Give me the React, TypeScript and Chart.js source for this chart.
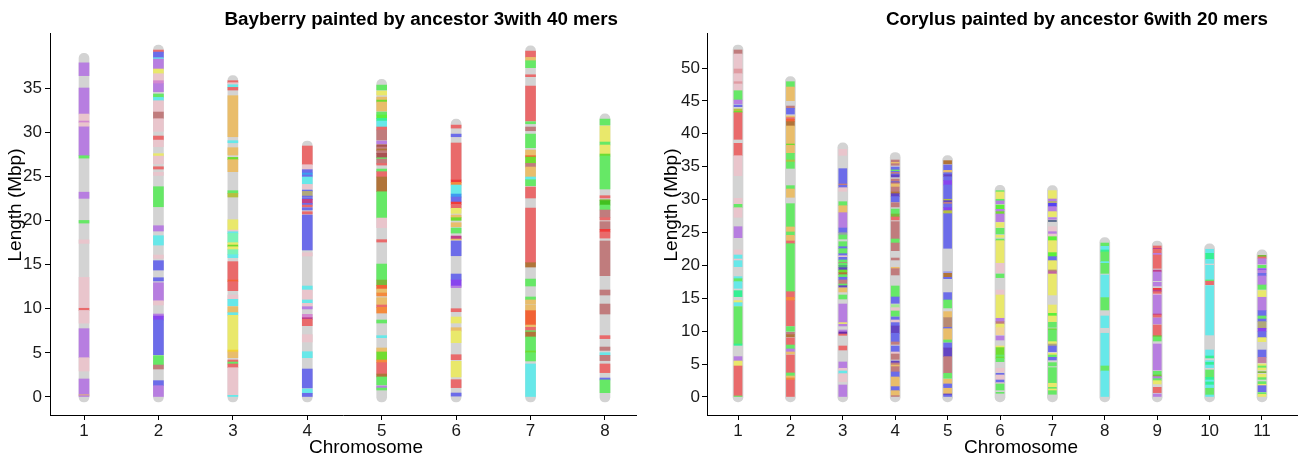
import { useEffect, useRef } from "react";
import { Chart, registerables } from "chart.js";
Chart.register(...registerables);

type Seg = [number, number, string];

// ancestral-source colour codes
const PALETTE: Record<string, string> = {
  P: "#b77ee0", K: "#e9c5cc", G: "#66e866", C: "#67e8e9", B: "#6c6ce9", R: "#e96a6b",
  O: "#e9bd6b", Y: "#e9e86b", M: "#c07c7d", N: "#b07439", L: "#70dc30", V: "#8844ee",
  I: "#6344c2", S: "#34f094", A: "#7af2b8", D: "#f48a3c", E: "#f26234", Q: "#b5c040",
  T: "#b0a87a", H: "#c0408a", W: "#3d9cf0", F: "#f2d398", X: "#e09ca2", Z: "#d488d0",
  J: "#f2d033", U: "#5cf03a", RB: "#f03a3a", MD: "#a85252", OG: "#7ab83a", DG: "#42c020",
  SL: "#94a4a4", SG: "#52b474", DP: "#6a2aaa", LG: "#a4e894", LB: "#9c9ce8", TN: "#b88a72",
  VB: "#5442f0", ST: "#607090", OR: "#c262a2", MV: "#c282a2",
};

// ---------------- Bayberry (ancestor 3, 40 mers) ----------------
const bayberryTitle = "Bayberry painted by ancestor 3with 40 mers";
const bayberryChromosomes = ["1", "2", "3", "4", "5", "6", "7", "8"];
const bayberryLengths = [38.35, 39.3, 35.83, 28.43, 35.4, 30.9, 39.2, 31.5];
const bayberryYTicks = [0, 5, 10, 15, 20, 25, 30, 35];

const bayberryChr1: Seg[] = [
  [36.4, 37.85, "P"], [32.05, 35.0, "P"], [31.26, 32.05, "K"], [31.07, 31.26, "Z"], [30.6, 31.07, "K"],
  [27.33, 30.6, "P"], [27.06, 27.33, "G"], [22.5, 23.2, "P"], [19.7, 20.0, "G"], [17.4, 17.8, "K"],
  [10.05, 13.55, "K"], [9.8, 10.05, "R"], [8.37, 9.8, "K"], [4.45, 7.74, "P"], [2.94, 4.45, "K"],
  [0.25, 2.04, "P"], [0.15, 0.25, "O"], [0, 0.15, "P"],
];
const bayberryChr2: Seg[] = [
  [39.07, 39.3, "R"], [38.43, 39.07, "B"], [38.28, 38.43, "C"], [37.15, 38.28, "P"], [36.62, 37.15, "Y"],
  [35.83, 36.62, "K"], [35.49, 35.83, "Z"], [34.58, 35.49, "P"], [33.94, 34.32, "G"], [33.56, 33.94, "C"],
  [32.28, 33.56, "K"], [31.52, 32.28, "M"], [30.09, 31.52, "K"], [29.1, 29.56, "R"], [28.35, 29.1, "K"],
  [27.29, 27.56, "Y"], [26.42, 27.29, "K"], [25.82, 26.08, "R"], [25.1, 25.45, "K"], [21.55, 23.82, "G"],
  [18.8, 19.4, "P"], [17.21, 18.27, "C"], [15.7, 16.08, "K"], [14.38, 15.44, "B"], [13.14, 13.51, "B"],
  [10.9, 12.94, "P"], [10.42, 10.9, "K"], [9.17, 9.4, "P"], [8.72, 9.17, "V"], [4.79, 8.72, "B"],
  [3.62, 4.68, "G"], [3.17, 3.62, "M"], [1.28, 1.85, "B"], [0, 1.28, "P"],
];
const bayberryChr3: Seg[] = [
  [35.6, 35.83, "R"], [35.37, 35.6, "K"], [35.07, 35.37, "C"], [34.77, 35.07, "R"], [29.48, 34.13, "O"],
  [28.8, 29.03, "C"], [27.41, 28.24, "O"], [26.88, 27.14, "L"], [25.52, 26.88, "O"], [23.06, 23.37, "G"],
  [22.65, 23.06, "Q"], [18.91, 20.08, "Y"], [18.72, 18.91, "K"], [18.53, 18.72, "C"], [17.48, 18.53, "A"],
  [17.21, 17.48, "Y"], [17.02, 17.21, "L"], [16.69, 17.02, "Y"], [16.12, 16.69, "A"], [15.78, 16.12, "C"],
  [13.25, 15.33, "R"], [13.06, 13.25, "E"], [12.04, 13.06, "R"], [11.06, 11.55, "K"], [10.34, 11.06, "C"],
  [9.55, 10.23, "O"], [9.25, 9.55, "C"], [5.32, 9.25, "Y"], [5.1, 5.32, "J"], [4.45, 5.1, "O"],
  [3.96, 4.19, "R"], [3.74, 3.96, "G"], [3.32, 3.74, "R"], [0.19, 3.32, "K"], [0, 0.19, "C"],
];
const bayberryChr4: Seg[] = [
  [26.31, 28.43, "R"], [25.75, 26.31, "K"], [25.37, 25.75, "B"], [25.14, 25.37, "W"], [24.92, 25.14, "B"],
  [24.12, 24.92, "C"], [23.56, 24.08, "K"], [23.29, 23.44, "B"], [22.76, 23.29, "T"], [22.61, 22.76, "B"],
  [22.39, 22.54, "B"], [21.93, 22.39, "H"], [21.74, 21.93, "B"], [21.52, 21.74, "R"], [21.18, 21.44, "B"],
  [20.72, 20.99, "R"], [16.65, 20.61, "B"], [15.97, 16.34, "K"], [12.12, 12.57, "C"], [10.99, 12.12, "K"],
  [10.61, 10.99, "C"], [10.23, 10.61, "K"], [9.97, 10.23, "P"], [8.98, 9.36, "Z"], [8.8, 8.98, "H"],
  [8.08, 8.8, "R"], [6.23, 7.06, "K"], [4.45, 5.13, "C"], [1.02, 3.17, "B"], [0.42, 0.91, "C"], [0, 0.42, "B"],
];
const bayberryChr5: Seg[] = [
  [34.77, 35.33, "G"], [34.2, 34.65, "Y"], [33.63, 33.97, "O"], [33.41, 33.63, "L"], [32.39, 33.41, "O"],
  [31.94, 32.28, "G"], [31.56, 31.94, "U"], [31.26, 31.56, "S"], [30.58, 31.26, "C"], [30.24, 30.58, "R"],
  [29.1, 30.24, "M"], [28.69, 28.99, "P"], [28.31, 28.58, "MD"], [28.09, 28.31, "M"], [27.9, 28.09, "N"],
  [27.6, 27.9, "M"], [27.1, 27.6, "MD"], [26.95, 27.1, "G"], [26.46, 26.95, "M"], [26.27, 26.46, "R"],
  [25.52, 25.82, "G"], [24.92, 25.52, "R"], [23.25, 24.92, "N"], [20.27, 23.25, "G"], [19.18, 20.27, "K"],
  [17.55, 17.82, "R"], [13.25, 15.06, "G"], [12.65, 13.25, "OG"], [12.23, 12.65, "E"], [11.78, 12.23, "O"],
  [11.44, 11.78, "D"], [10.42, 11.25, "O"], [10.16, 10.42, "R"], [9.51, 10.16, "D"], [8.38, 8.72, "G"],
  [6.72, 6.95, "C"], [5.1, 5.55, "O"], [4.19, 5.1, "L"], [3.89, 4.19, "D"], [2.6, 3.89, "R"],
  [2.27, 2.6, "N"], [1.36, 2.27, "G"], [1.02, 1.25, "P"], [0.79, 1.02, "G"],
];
const bayberryChr6: Seg[] = [
  [30.46, 30.8, "R"], [29.48, 29.78, "B"], [24.58, 28.77, "R"], [24.31, 24.58, "RB"], [24.01, 24.31, "D"],
  [22.99, 24.01, "C"], [22.65, 22.99, "W"], [22.08, 22.65, "B"], [21.82, 22.08, "RB"], [21.37, 21.82, "R"],
  [20.8, 21.37, "Y"], [20.31, 20.61, "O"], [20.01, 20.31, "L"], [19.29, 19.74, "O"], [18.57, 19.14, "G"],
  [17.89, 18.23, "H"], [17.78, 17.89, "O"], [16.0, 17.67, "B"], [13.25, 13.93, "B"], [12.57, 13.25, "V"],
  [12.38, 12.57, "P"], [9.66, 10.0, "R"], [8.38, 9.06, "Y"], [7.47, 7.85, "O"], [6.15, 7.47, "Y"],
  [4.23, 4.79, "R"], [2.27, 4.04, "Y"], [1.06, 1.96, "R"], [0.1, 0.45, "B"],
];
const bayberryChr7: Seg[] = [
  [38.47, 39.18, "R"], [38.09, 38.47, "O"], [37.3, 38.09, "G"], [36.28, 36.5, "R"], [31.26, 35.22, "R"],
  [30.95, 31.18, "G"], [30.16, 30.58, "M"], [28.24, 29.78, "G"], [27.33, 27.97, "O"], [27.18, 27.33, "E"],
  [26.46, 27.18, "L"], [26.05, 26.46, "M"], [24.92, 26.05, "O"], [24.61, 24.92, "C"], [23.93, 24.61, "G"],
  [22.54, 23.78, "R"], [15.21, 21.4, "R"], [14.72, 15.21, "N"], [12.57, 13.36, "G"], [11.02, 11.33, "G"],
  [10.5, 10.99, "O"], [9.78, 10.38, "O"], [8.15, 9.78, "E"], [7.89, 8.15, "O"], [7.51, 7.89, "R"],
  [7.36, 7.51, "G"], [6.8, 7.36, "N"], [5.21, 6.8, "G"], [5.02, 5.21, "L"], [4.08, 5.02, "G"], [0, 3.74, "C"],
];
const bayberryChr8: Seg[] = [
  [30.8, 31.48, "G"], [28.88, 30.69, "Y"], [28.54, 28.88, "G"], [27.52, 28.54, "Y"], [27.29, 27.52, "L"],
  [23.56, 27.29, "G"], [22.54, 22.8, "R"], [22.23, 22.35, "OG"], [21.74, 22.23, "DG"], [21.18, 21.74, "G"],
  [20.31, 21.18, "M"], [20.05, 20.31, "R"], [18.99, 19.86, "M"], [18.69, 18.99, "RB"], [18.0, 18.69, "R"],
  [13.74, 17.67, "M"], [11.55, 12.12, "M"], [9.4, 10.53, "M"], [6.61, 6.95, "R"], [5.28, 5.66, "M"],
  [4.72, 5.02, "C"], [4.12, 4.72, "M"], [2.76, 3.74, "R"], [1.93, 2.15, "B"], [0.49, 1.93, "G"],
];

// ---------------- Corylus (ancestor 6, 20 mers) ----------------
const corylusTitle = "Corylus painted by ancestor 6with 20 mers";
const corylusChromosomes = ["1", "2", "3", "4", "5", "6", "7", "8", "9", "10", "11"];
const corylusLengths = [52.74, 47.92, 37.85, 36.4, 35.92, 31.4, 31.36, 23.45, 22.95, 22.5, 21.6];
const corylusYTicks = [0, 5, 10, 15, 20, 25, 30, 35, 40, 45, 50];

const corylusChr1: Seg[] = [
  [52.13, 52.74, "M"], [49.85, 52.13, "K"], [49.14, 49.85, "X"], [47.92, 49.14, "K"], [47.57, 47.92, "X"],
  [46.55, 47.57, "K"], [45.14, 46.55, "G"], [44.58, 45.14, "P"], [44.12, 44.38, "B"], [43.42, 43.77, "Q"],
  [43.21, 43.42, "L"], [39.16, 43.21, "R"], [36.67, 38.55, "R"], [33.64, 36.67, "K"], [29.28, 30.19, "K"],
  [28.77, 29.28, "G"], [27.31, 28.77, "K"], [24.21, 25.88, "P"], [21.58, 22.34, "K"], [20.97, 21.58, "C"],
  [20.72, 20.97, "K"], [19.81, 20.72, "C"], [17.98, 18.29, "C"], [17.53, 17.98, "G"], [16.52, 17.53, "C"],
  [15.25, 16.16, "S"], [14.34, 14.64, "Y"], [13.83, 14.34, "C"], [8.05, 13.73, "G"], [7.85, 8.05, "S"],
  [5.47, 6.13, "P"], [4.71, 5.47, "Y"], [0.15, 4.71, "R"], [0, 0.15, "G"],
];
const corylusChr2: Seg[] = [
  [47.11, 47.92, "G"], [45.04, 47.11, "O"], [43.87, 44.22, "M"], [43.0, 43.87, "B"], [42.45, 42.7, "O"],
  [42.2, 42.45, "R"], [41.84, 42.2, "E"], [41.19, 41.84, "N"], [38.45, 41.19, "O"], [38.25, 38.45, "L"],
  [37.03, 38.25, "O"], [36.02, 37.03, "G"], [35.71, 36.02, "Q"], [34.75, 35.71, "G"], [31.61, 32.12, "G"],
  [30.35, 31.61, "O"], [25.84, 29.38, "G"], [25.08, 25.84, "O"], [24.57, 25.08, "G"], [23.71, 24.57, "O"],
  [23.3, 23.71, "R"], [16.0, 23.3, "G"], [15.15, 16.0, "R"], [14.64, 15.15, "D"], [10.79, 14.64, "R"],
  [9.98, 10.69, "G"], [9.47, 9.83, "M"], [9.12, 9.47, "N"], [7.9, 8.97, "R"], [7.3, 7.9, "G"],
  [6.84, 7.3, "P"], [6.53, 6.84, "O"], [3.65, 6.38, "R"], [3.19, 3.65, "G"], [2.89, 3.19, "O"],
  [2.58, 2.89, "D"], [0, 2.58, "R"],
];
const corylusChr3: Seg[] = [
  [36.73, 37.64, "K"], [32.37, 34.7, "B"], [32.17, 32.37, "M"], [31.81, 32.17, "B"], [31.26, 31.81, "K"],
  [29.07, 29.68, "G"], [28.01, 29.07, "O"], [25.68, 28.01, "P"], [24.97, 25.68, "B"], [24.62, 24.97, "SL"],
  [24.01, 24.62, "G"], [22.84, 23.6, "G"], [22.54, 22.84, "B"], [21.78, 22.54, "G"], [21.47, 21.78, "B"],
  [21.23, 21.47, "K"], [20.82, 21.23, "B"], [20.42, 20.82, "G"], [20.31, 20.42, "M"], [20.01, 20.31, "G"],
  [19.65, 20.01, "SG"], [19.3, 19.65, "I"], [18.9, 19.3, "L"], [18.59, 18.9, "N"], [18.19, 18.59, "G"],
  [17.78, 18.19, "B"], [17.17, 17.78, "M"], [16.92, 17.17, "G"], [16.67, 16.92, "I"], [15.96, 16.57, "O"],
  [14.89, 15.5, "G"], [11.3, 14.13, "P"], [11.15, 11.3, "Y"], [10.79, 11.05, "P"], [9.88, 10.18, "P"],
  [9.57, 9.88, "DP"], [9.37, 9.57, "R"], [7.14, 7.75, "R"], [4.36, 5.32, "P"], [3.95, 4.36, "K"],
  [3.55, 3.95, "C"], [2.33, 3.55, "K"], [0, 1.82, "P"],
];
const corylusChr4: Seg[] = [
  [35.66, 36.02, "M"], [35.46, 35.66, "O"], [35.21, 35.46, "M"], [34.5, 34.95, "B"], [34.3, 34.5, "G"],
  [34.14, 34.3, "B"], [33.89, 34.14, "M"], [33.74, 33.89, "B"], [33.43, 33.74, "I"], [32.83, 33.13, "M"],
  [32.57, 32.73, "I"], [32.37, 32.57, "M"], [31.91, 32.37, "O"], [31.16, 31.91, "M"], [30.9, 31.16, "N"],
  [30.45, 30.9, "I"], [29.64, 30.45, "B"], [28.88, 29.53, "M"], [27.81, 28.57, "G"], [27.36, 27.81, "OG"],
  [26.9, 27.36, "R"], [24.01, 26.65, "M"], [23.4, 24.01, "G"], [22.24, 23.4, "M"], [20.82, 21.12, "M"],
  [19.5, 19.71, "O"], [18.54, 19.5, "M"], [15.2, 16.87, "G"], [14.24, 15.2, "B"], [13.58, 14.03, "LG"],
  [13.07, 13.58, "K"], [12.26, 13.07, "G"], [11.7, 12.16, "B"], [11.3, 11.7, "K"], [10.79, 11.3, "B"],
  [9.68, 10.79, "I"], [8.36, 9.68, "B"], [8.0, 8.36, "M"], [6.84, 7.75, "B"], [6.53, 6.84, "K"],
  [5.72, 6.53, "M"], [5.17, 5.47, "I"], [4.86, 5.17, "M"], [4.61, 4.86, "O"], [3.8, 4.61, "M"],
  [3.04, 3.8, "B"], [1.57, 3.04, "O"], [0.96, 1.57, "B"], [0.2, 0.96, "O"], [0, 0.2, "M"],
];
const corylusChr5: Seg[] = [
  [35.41, 35.92, "N"], [34.45, 35.26, "B"], [34.09, 34.45, "O"], [33.79, 34.09, "B"], [33.48, 33.79, "I"],
  [32.88, 33.48, "B"], [32.22, 32.88, "V"], [30.05, 32.22, "B"], [29.84, 30.05, "Q"], [29.59, 29.84, "I"],
  [29.33, 29.59, "M"], [28.77, 29.33, "B"], [28.32, 28.77, "V"], [27.86, 28.32, "Q"], [22.6, 27.86, "B"],
  [18.79, 19.05, "LB"], [18.19, 18.79, "N"], [17.98, 18.19, "B"], [14.74, 15.86, "B"], [13.53, 14.74, "G"],
  [12.06, 12.97, "O"], [10.59, 12.06, "TN"], [10.38, 10.59, "B"], [8.66, 10.38, "O"], [8.31, 8.66, "G"],
  [7.45, 8.21, "B"], [6.13, 7.45, "I"], [3.6, 6.13, "M"], [2.84, 3.6, "G"], [1.98, 2.69, "O"],
  [1.77, 1.98, "B"], [1.42, 1.77, "B"], [0.46, 1.32, "O"], [0.3, 0.46, "I"], [0, 0.3, "B"],
];
const corylusChr6: Seg[] = [
  [31.16, 31.36, "G"], [30.05, 31.16, "Y"], [29.79, 30.05, "G"], [29.38, 29.79, "P"], [28.52, 29.18, "U"],
  [28.17, 28.52, "P"], [27.81, 28.17, "L"], [26.65, 27.81, "P"], [25.79, 26.5, "Y"], [24.77, 25.63, "G"],
  [24.27, 24.57, "Y"], [23.76, 24.01, "G"], [20.42, 23.76, "Y"], [18.9, 20.31, "K"], [18.14, 18.69, "G"],
  [15.5, 16.26, "K"], [11.96, 15.5, "Y"], [11.45, 11.96, "P"], [11.09, 11.45, "M"], [10.54, 11.09, "Y"],
  [9.47, 10.54, "F"], [8.66, 9.27, "P"], [7.5, 7.75, "Y"], [6.38, 7.5, "L"], [6.08, 6.38, "G"],
  [5.88, 6.08, "L"], [5.37, 5.88, "G"], [3.8, 4.36, "K"], [3.34, 3.6, "B"], [2.58, 3.34, "K"],
  [2.18, 2.58, "B"], [1.98, 2.18, "K"], [1.06, 1.98, "G"], [0.56, 0.71, "G"],
];
const corylusChr7: Seg[] = [
  [30.09, 31.36, "Y"], [29.74, 30.09, "P"], [29.43, 29.74, "T"], [28.93, 29.43, "VB"], [28.17, 28.93, "P"],
  [27.41, 28.17, "Y"], [27.0, 27.25, "P"], [26.65, 26.85, "ST"], [25.12, 25.88, "K"], [24.77, 25.12, "P"],
  [24.36, 24.77, "K"], [23.76, 24.36, "U"], [21.94, 23.76, "Y"], [21.33, 21.94, "U"], [20.72, 21.33, "B"],
  [19.3, 20.72, "Y"], [19.05, 19.3, "TN"], [18.69, 19.05, "OR"], [15.5, 18.69, "Y"], [12.71, 13.98, "Y"],
  [12.31, 12.71, "U"], [11.45, 12.31, "Y"], [10.59, 11.35, "G"], [10.18, 10.38, "L"], [8.41, 10.18, "G"],
  [8.05, 8.41, "Y"], [7.75, 8.05, "T"], [6.89, 7.75, "B"], [6.38, 6.64, "Y"], [6.03, 6.38, "G"],
  [5.62, 6.03, "B"], [4.71, 5.22, "G"], [2.08, 4.46, "G"], [1.57, 2.08, "Y"], [1.22, 1.47, "G"],
  [0.96, 1.22, "Y"], [0.41, 0.96, "G"],
];
const corylusChr8: Seg[] = [
  [22.95, 23.4, "G"], [22.34, 22.9, "C"], [22.04, 22.34, "S"], [20.57, 22.04, "G"], [20.31, 20.57, "C"],
  [18.79, 20.31, "G"], [15.1, 18.54, "C"], [13.22, 15.1, "G"], [10.54, 12.31, "C"], [4.71, 9.68, "C"],
  [3.95, 4.71, "G"], [0, 3.95, "C"],
];
const corylusChr9: Seg[] = [
  [22.59, 22.95, "R"], [22.44, 22.59, "H"], [21.83, 22.44, "R"], [21.58, 21.83, "P"], [19.55, 21.58, "R"],
  [19.0, 19.3, "H"], [17.68, 19.0, "P"], [16.87, 17.43, "P"], [16.26, 16.52, "RB"], [16.0, 16.26, "H"],
  [15.65, 16.0, "R"], [15.5, 15.65, "K"], [12.61, 15.5, "P"], [12.46, 12.61, "H"], [12.11, 12.46, "R"],
  [11.09, 12.01, "P"], [9.32, 10.94, "R"], [9.12, 9.32, "OG"], [8.51, 9.12, "G"], [4.1, 8.05, "P"],
  [3.34, 3.9, "G"], [3.09, 3.34, "OG"], [2.79, 3.09, "P"], [2.48, 2.79, "G"], [1.98, 2.48, "Y"],
  [0.66, 1.47, "R"], [0, 0.46, "P"],
];
const corylusChr10: Seg[] = [
  [21.83, 22.45, "C"], [20.92, 21.83, "S"], [20.31, 20.92, "C"], [17.78, 20.01, "C"], [17.58, 17.78, "G"],
  [17.07, 17.58, "R"], [9.42, 16.92, "C"], [6.23, 7.14, "C"], [5.93, 6.23, "S"], [5.27, 5.52, "C"],
  [4.86, 5.27, "S"], [4.46, 4.86, "C"], [2.99, 4.1, "G"], [2.58, 2.99, "S"], [2.28, 2.58, "C"],
  [1.82, 2.28, "S"], [1.32, 1.82, "C"], [0.3, 1.32, "G"], [0, 0.3, "C"],
];
const corylusChr11: Seg[] = [
  [21.28, 21.53, "OG"], [21.02, 21.28, "R"], [20.21, 21.02, "P"], [19.65, 20.01, "G"], [19.3, 19.5, "V"],
  [18.79, 19.3, "P"], [18.39, 18.79, "B"], [17.02, 18.39, "P"], [16.36, 17.02, "G"], [15.25, 16.16, "Y"],
  [13.12, 15.15, "P"], [12.31, 13.12, "B"], [11.85, 12.31, "G"], [11.45, 11.85, "B"], [10.44, 11.45, "T"],
  [9.93, 10.44, "V"], [9.02, 9.93, "B"], [8.41, 9.02, "Y"], [6.03, 7.14, "B"], [5.22, 6.03, "MV"],
  [4.71, 5.02, "Y"], [4.41, 4.71, "G"], [4.1, 4.41, "Y"], [3.7, 3.85, "OG"], [2.94, 3.45, "Y"],
  [2.68, 2.94, "G"], [1.93, 2.33, "G"], [1.72, 1.93, "Y"], [0.81, 1.72, "B"], [0.41, 0.66, "G"], [0, 0.41, "Y"],
];

const bayberrySegments = [bayberryChr1, bayberryChr2, bayberryChr3, bayberryChr4, bayberryChr5, bayberryChr6, bayberryChr7, bayberryChr8];
const corylusSegments = [corylusChr1, corylusChr2, corylusChr3, corylusChr4, corylusChr5, corylusChr6, corylusChr7, corylusChr8, corylusChr9, corylusChr10, corylusChr11];

interface Panel {
  title: string;
  categories: string[];
  lengths: number[];
  segments: Seg[][];
  yTicks: number[];
  xMin: number; xMax: number; yMin: number; yMax: number;
  capUnits: number; barWidth: number; segWidth: number;
  axisWidth: number; padRight: number; tickPad: number;
  titleRight: number; xTitleX: number; yTitleX: number;
}

const FONT = '"Liberation Sans", Arial, Helvetica, sans-serif';

const leftPanel: Panel = {
  title: bayberryTitle, categories: bayberryChromosomes, lengths: bayberryLengths,
  segments: bayberrySegments, yTicks: bayberryYTicks,
  xMin: 0.543, xMax: 8.417, yMin: -2.04, yMax: 41.23,
  capUnits: 0.57, barWidth: 10, segWidth: 10,
  axisWidth: 50, padRight: 24, tickPad: 3,
  titleRight: 618, xTitleX: 366, yTitleX: 16,
};
const rightPanel: Panel = {
  title: corylusTitle, categories: corylusChromosomes, lengths: corylusLengths,
  segments: corylusSegments, yTicks: corylusYTicks,
  xMin: 0.408, xMax: 11.668, yMin: -2.74, yMax: 55.32,
  capUnits: 0.76, barWidth: 10, segWidth: 8,
  axisWidth: 47, padRight: 6, tickPad: 2,
  titleRight: 608, xTitleX: 361, yTitleX: 12,
};

function textPlugin(p: Panel) {
  return {
    id: "panelText",
    afterDraw(chart: any) {
      const ctx = chart.ctx as CanvasRenderingContext2D;
      ctx.save();
      ctx.fillStyle = "#000";
      ctx.font = `bold 18.8px ${FONT}`;
      ctx.textAlign = "right";
      ctx.textBaseline = "alphabetic";
      ctx.fillText(p.title, p.titleRight, 25);
      ctx.font = `19px ${FONT}`;
      ctx.textAlign = "center";
      ctx.fillText("Chromosome", p.xTitleX, 453);
      ctx.translate(p.yTitleX, 205);
      ctx.rotate(-Math.PI / 2);
      ctx.textBaseline = "middle";
      ctx.fillText("Length (Mbp)", 0, 0);
      ctx.restore();
    },
  };
}

function makeConfig(p: Panel): any {
  const greyData = p.lengths.map((L, i) => ({ x: i + 1, y: [-p.capUnits, L + p.capUnits] }));
  const segData: any[] = [];
  const segColors: string[] = [];
  p.segments.forEach((list, i) =>
    list.forEach(([a, b, c]) => {
      segData.push({ x: i + 1, y: [a, b] });
      segColors.push(PALETTE[c]);
    })
  );
  return {
    type: "bar",
    data: {
      datasets: [
        {
          data: segData, backgroundColor: segColors, barThickness: p.segWidth, maxBarThickness: p.segWidth,
          grouped: false, order: 1, borderWidth: 0, borderSkipped: false,
        },
        {
          data: greyData, backgroundColor: "#d3d3d3", barThickness: p.barWidth, maxBarThickness: p.barWidth,
          grouped: false, order: 2, borderWidth: 0, borderSkipped: false, borderRadius: p.barWidth / 2,
        },
      ],
    },
    options: {
      animation: false,
      responsive: false,
      devicePixelRatio: 1,
      layout: { padding: { top: 33, right: p.padRight, left: 0, bottom: 0 } },
      plugins: { legend: { display: false }, tooltip: { enabled: false }, title: { display: false } },
      scales: {
        x: {
          type: "linear", min: p.xMin, max: p.xMax, offset: false,
          grid: { display: true, drawOnChartArea: false, drawTicks: true, tickLength: 5, color: "#000", offset: false },
          border: { display: true, color: "#000", width: 1 },
          ticks: {
            autoSkip: false, maxRotation: 0, padding: 1, color: "#1a1a1a",
            font: { family: FONT, size: 17 },
            callback: (v: number) => p.categories[Math.round(v) - 1] ?? "",
          },
          afterBuildTicks: (s: any) => { s.ticks = p.categories.map((_, i) => ({ value: i + 1 })); },
          afterFit: (s: any) => { s.height = 43; },
        },
        y: {
          type: "linear", min: p.yMin, max: p.yMax,
          grid: { display: true, drawOnChartArea: false, drawTicks: true, tickLength: 5, color: "#000" },
          border: { display: true, color: "#000", width: 1 },
          ticks: {
            padding: p.tickPad, color: "#1a1a1a", font: { family: FONT, size: 17 },
            callback: (v: number) => String(v),
          },
          afterBuildTicks: (s: any) => { s.ticks = p.yTicks.map((v) => ({ value: v })); },
          afterFit: (s: any) => { s.width = p.axisWidth; },
        },
      },
    },
    plugins: [textPlugin(p)],
  };
}

export default function App() {
  const leftRef = useRef<HTMLCanvasElement>(null);
  const rightRef = useRef<HTMLCanvasElement>(null);
  useEffect(() => {
    const a = new Chart(leftRef.current!, makeConfig(leftPanel));
    const b = new Chart(rightRef.current!, makeConfig(rightPanel));
    return () => { a.destroy(); b.destroy(); };
  }, []);
  return (
    <div style={{ position: "absolute", left: 0, top: 0, width: 1303, height: 458, background: "#fff" }}>
      <canvas ref={leftRef} width={660} height={458} style={{ position: "absolute", left: 0, top: 0 }} />
      <canvas ref={rightRef} width={643} height={458} style={{ position: "absolute", left: 660, top: 0 }} />
    </div>
  );
}
